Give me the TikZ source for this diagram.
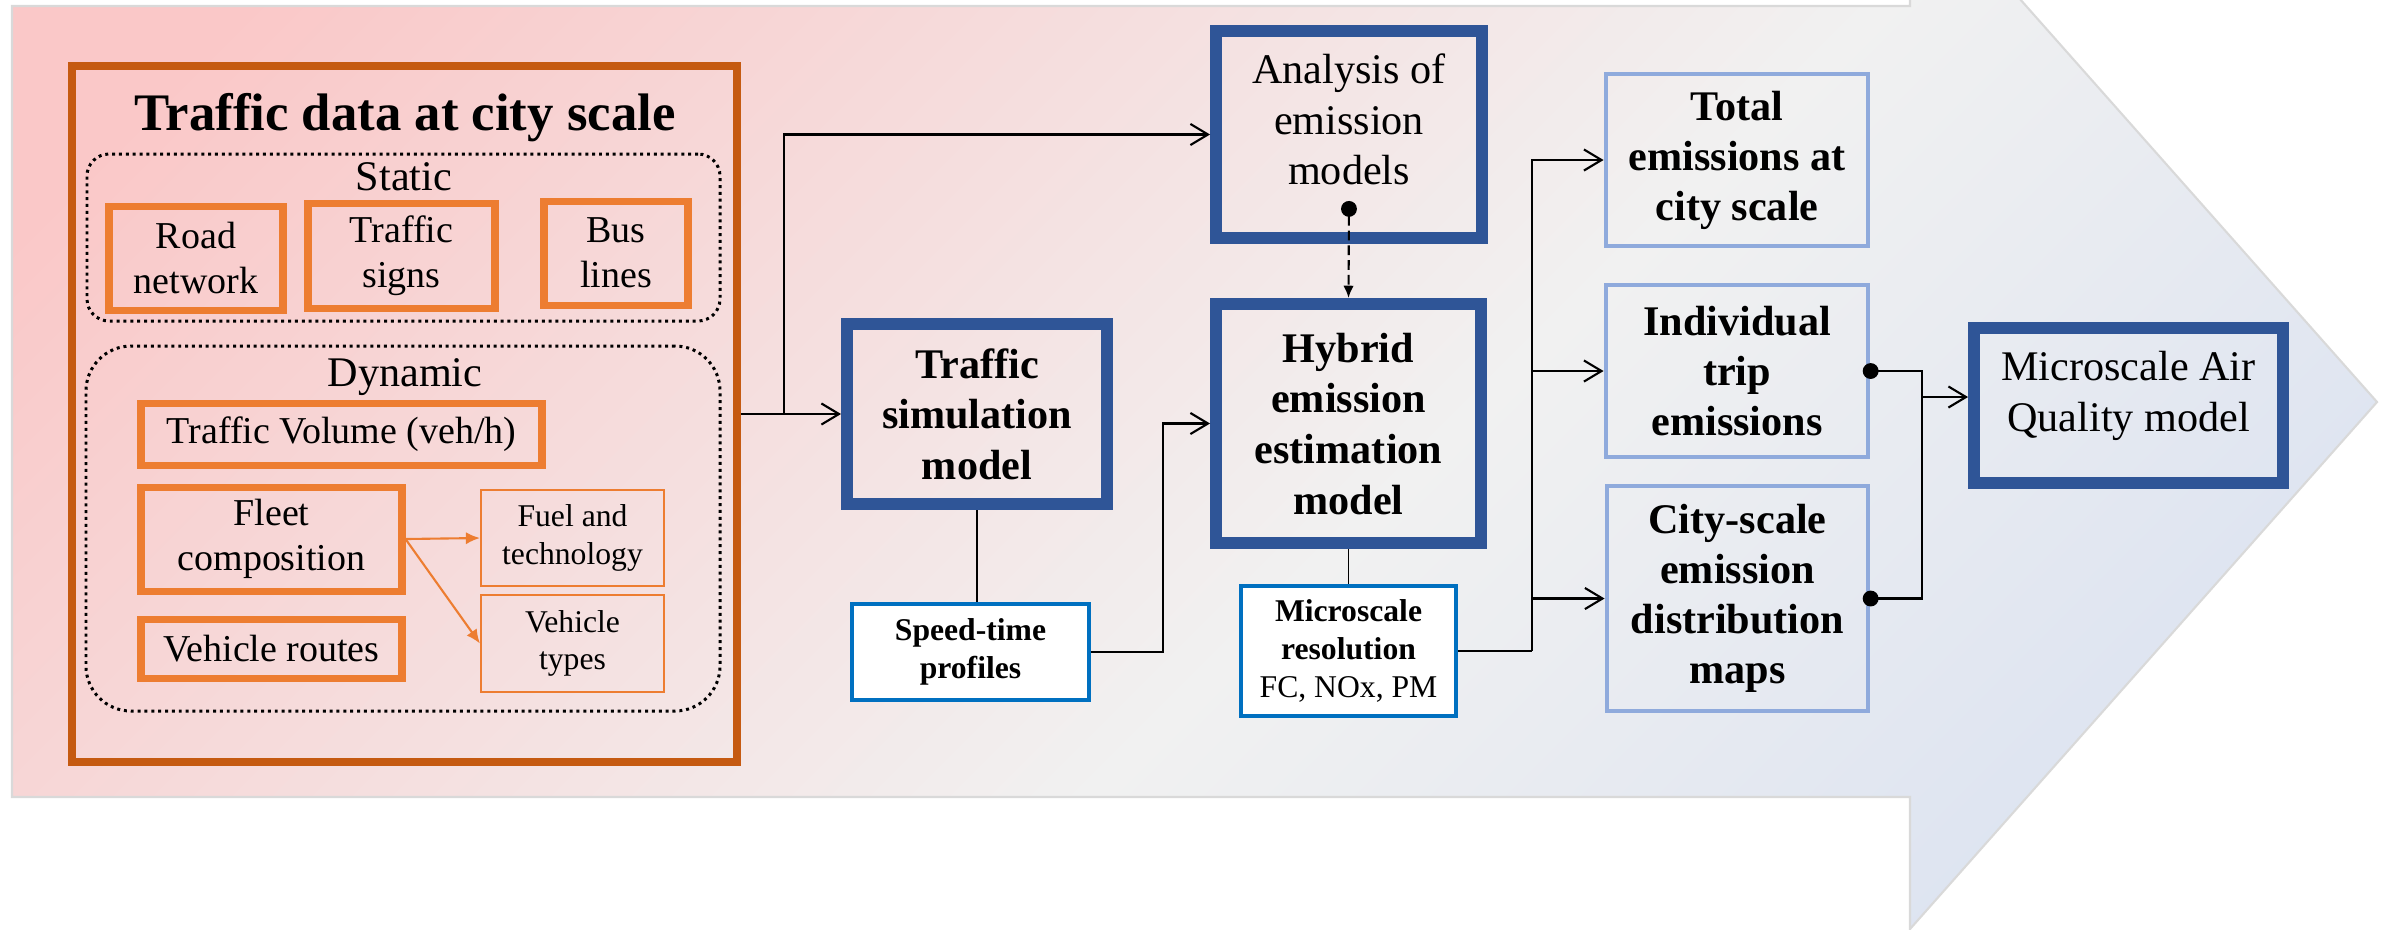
\documentclass[tikz,border=0pt]{standalone}
\usepackage{fontspec}
\setmainfont{Liberation Serif}
\usetikzlibrary{positioning}
\usetikzlibrary{arrows.meta}
\definecolor{data-dark}{HTML}{C55A11}
\definecolor{data-orange}{HTML}{ED7D31}
\definecolor{model-blue}{HTML}{2F5597}
\definecolor{output-blue}{HTML}{8FAADC}
\definecolor{note-blue}{HTML}{0070C0}
\definecolor{bg-pink}{HTML}{FAC8C8}
\definecolor{bg-grey}{HTML}{F1F1F1}
\definecolor{bg-blue}{HTML}{DCE3F1}
\definecolor{bg-edge}{HTML}{D9D9D9}
\pgfdeclareverticalshading{bg-shade}{100bp}{color(0bp)=(bg-blue); color(22bp)=(bg-blue); color(44bp)=(bg-grey); color(78bp)=(bg-pink); color(100bp)=(bg-pink)}
\newcommand{\textsize}[2]{\fontsize{#1}{#2}\selectfont}
\tikzset{
  box-size/.style 2 args={minimum width=#1*0.01cm, minimum height=#2*0.01cm},
  data-frame/.style={draw=data-dark, line width=2.3pt, inner sep=0pt},
  data-group/.style={draw, line width=0.85pt, dash pattern=on 0.85pt off 1.1pt, rounded corners=#1, inner sep=0pt},
  data-item/.style={draw=data-orange, line width=2pt, inner sep=0pt, align=center, font=\textsize{10.8}{12.8}},
  data-sub/.style={draw=data-orange, line width=0.6pt, inner sep=0pt, align=center, font=\textsize{9}{10.7}},
  model-box/.style={draw=model-blue, line width=3.4pt, inner sep=0pt, align=center, font=\textsize{12}{14.4}#1},
  model-box/.default=,
  output-box/.style={draw=output-blue, line width=1.4pt, inner sep=0pt, align=center, font=\bfseries\textsize{12}{14.2}},
  note-box/.style={draw=note-blue, fill=white, line width=1.1pt, inner sep=0pt, align=center, font=\textsize{9}{10.8}},
  flow-path/.style={line width=0.6pt, -{Straight Barb[length=5pt,width=6pt]}},
  dot-path/.style={line width=0.6pt, {Circle[length=4.5pt]}-, shorten <=-2.2pt},
  data-path/.style={draw=data-orange, line width=0.6pt, -{Latex[length=4pt,width=3.5pt]}},
}

\begin{document}
\begin{tikzpicture}[x=0.01cm, y=-0.01cm]
\useasboundingbox (0,0) rectangle (2389,929);
% background arrow
\begin{scope}
\clip (0,0) rectangle (2389,929);
\path[draw=bg-edge, line width=0.6pt, shading=bg-shade, shading angle=45]
  (12,6) -- (1910,6) -- (1910,-125) -- (2377,402) -- (1910,929) -- (1910,797) -- (12,797) -- cycle;
\end{scope}

% traffic data
\node[data-frame, box-size={665}{696}] (trafficdata) at (404.5,414) {};
\node[anchor=base, font=\bfseries\textsize{15}{18}] (title) at (405,130) {Traffic data at city scale};
\node[data-group=0.22cm, box-size={633}{167}] (static) at (403.5,237.5) {};
\node[anchor=base, font=\textsize{12}{14}] (static-label) at (404,190) {Static};
\node[data-item, box-size={174}{104}] (road) at (196,258) {Road\\network};
\node[data-item, box-size={187}{105}] (signs) at (401.5,255.5) {Traffic\\signs};
\node[data-item, box-size={144}{104}] (bus) at (616,253) {Bus\\lines};
\node[data-group=0.45cm, box-size={634}{365}] (dynamic) at (403,528.5) {};
\node[anchor=base, font=\textsize{12}{14}] (dynamic-label) at (405,386) {Dynamic};
\node[data-item, box-size={401}{62}] (volume) at (341.5,434) {Traffic Volume (veh/h)};
\node[data-item, box-size={261}{104}] (fleet) at (271.5,539) {Fleet\\composition};
\node[data-item, box-size={261}{59}] (routes) at (271.5,648.5) {Vehicle routes};
\node[data-sub, box-size={183}{96}] (fuel) at (572.5,538) {Fuel and\\technology};
\node[data-sub, box-size={183}{97}] (vtypes) at (572.5,643.5) {Vehicle\\types};
\draw[data-path] (fleet.east) -- (fuel.west);
\draw[data-path] (fleet.east) -- (vtypes.west);

% models
\node[model-box=\bfseries, box-size={260}{180}] (tsim) at (977,414) {Traffic\\simulation\\model};
\node[model-box, box-size={266}{207}, text depth=8.6pt] (analysis) at (1349,134.5) {Analysis of\\emission\\models};
\node[model-box=\bfseries, box-size={265}{239}, text depth=-3pt] (hybrid) at (1348.5,423.5) {Hybrid\\emission\\estimation\\model};
\node[note-box, box-size={237}{96}] (speed) at (970.5,652) {\textbf{Speed-time}\\\textbf{profiles}};
\node[note-box, box-size={215}{130}] (res) at (1348.5,651) {\textbf{Microscale}\\\textbf{resolution}\\FC, NOx, PM};

% outputs
\node[output-box, box-size={262}{172}] (total) at (1737,160) {Total\\emissions at\\city scale};
\node[output-box, box-size={262}{172}] (indiv) at (1737,371) {Individual\\trip\\emissions};
\node[output-box, box-size={261}{225}] (city) at (1737.5,598.5) {City-scale\\emission\\distribution\\maps};
\node[model-box, box-size={309}{155}, text depth=8pt] (aq) at (2128.5,405.5) {Microscale Air\\Quality model};

% connectors
\coordinate (split) at (784,414);
\draw[flow-path] (trafficdata.east) -- (tsim.west);
\draw[flow-path] (split) |- (analysis.west);
\draw[line width=0.6pt] (tsim.south) -- (tsim.south |- speed.north);
\draw[flow-path] (speed.east) -- ++(72,0) |- (hybrid.west);
\draw[line width=0.6pt, dash pattern=on 2.8pt off 1.4pt, {Circle[length=4.5pt]}-{Latex[length=3.5pt,width=3pt]}] ([yshift=0.43cm]analysis.south) -- (hybrid.north);
\draw[line width=0.3pt] (hybrid.south) -- (res.north);
\coordinate (fork) at (1532,651);
\draw[line width=0.8pt] (res.east) -- (fork);
\draw[flow-path] (fork) |- (total.west);
\draw[flow-path] (fork |- indiv.west) -- (indiv.west);
\draw[flow-path] (fork |- city.west) -- (city.west);
\coordinate (join) at (1922,397);
\draw[dot-path] (indiv.east) -| (join);
\draw[dot-path] (city.east) -| (join);
\draw[flow-path] (join) -- (join -| aq.west);
\end{tikzpicture}
\end{document}
